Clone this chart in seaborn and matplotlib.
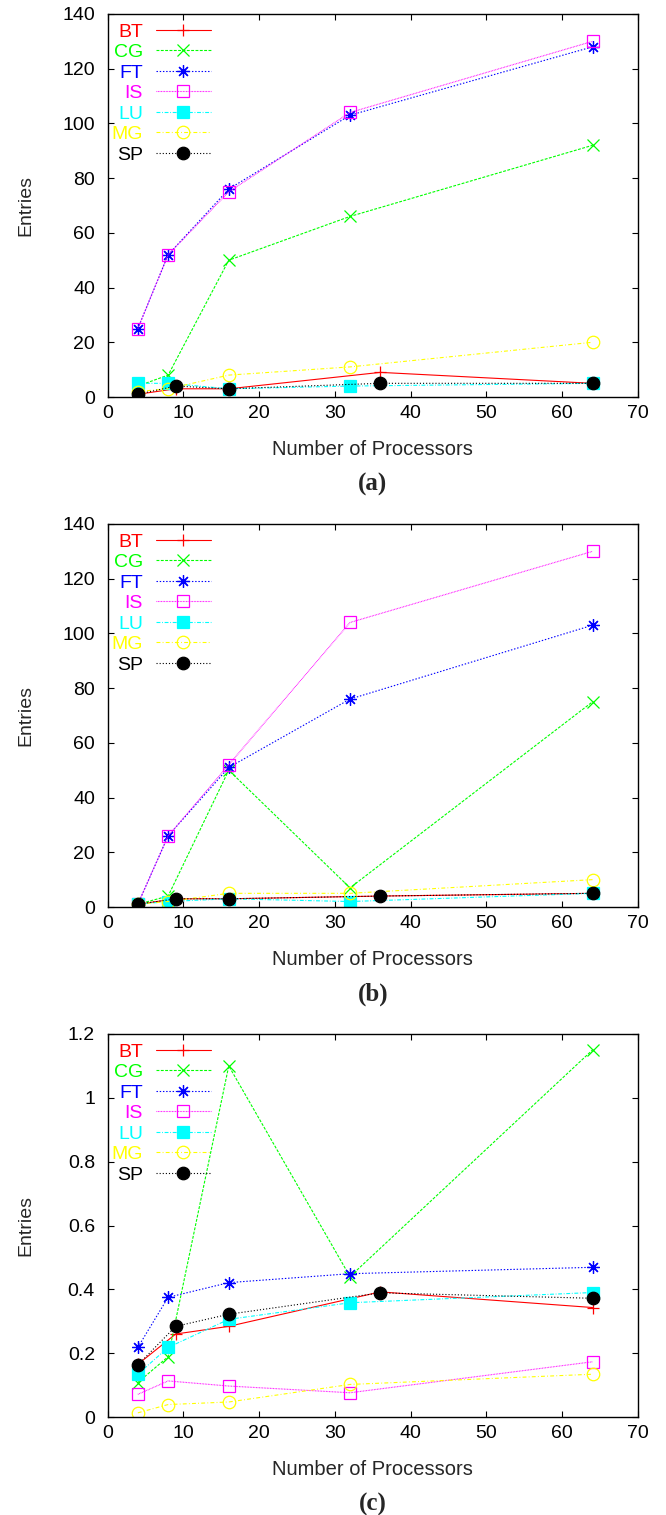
import matplotlib
matplotlib.use("Agg")
import matplotlib.pyplot as plt
import seaborn as sns

# ---------------- data ----------------
SERIES = ["BT", "CG", "FT", "IS", "LU", "MG", "SP"]
X_POW2 = [4, 8, 16, 32, 64]        # CG, FT, IS, LU, MG
X_SQUARE = [4, 9, 16, 36, 64]      # BT, SP
X_TICKS = [0, 10, 20, 30, 40, 50, 60, 70]

# panel (a)
A_BT = [1, 3, 3, 9, 5]
A_CG = [4, 8, 50, 66, 92]
A_FT = [25, 52, 76, 103, 128]
A_IS = [25, 52, 75, 104, 130]
A_LU = [5, 5, 3, 4, 5]
A_MG = [2, 3, 8, 11, 20]
A_SP = [1, 4, 3, 5, 5]

# panel (b)
B_BT = [1, 3, 3, 4, 5]
B_CG = [1, 4, 50, 7, 75]
B_FT = [1, 26, 51, 76, 103]
B_IS = [1, 26, 52, 104, 130]
B_LU = [1, 2, 3, 2, 5]
B_MG = [1, 2, 5, 5, 10]
B_SP = [1, 3, 3, 4, 5]

# panel (c)
C_BT = [0.165, 0.26, 0.284, 0.392, 0.343]
C_CG = [0.108, 0.189, 1.10, 0.44, 1.15]
C_FT = [0.218, 0.375, 0.421, 0.449, 0.469]
C_IS = [0.071, 0.113, 0.097, 0.076, 0.173]
C_LU = [0.134, 0.218, 0.306, 0.358, 0.39]
C_MG = [0.013, 0.039, 0.047, 0.102, 0.134]
C_SP = [0.163, 0.284, 0.322, 0.389, 0.372]

Y_TICKS_AB = [0, 20, 40, 60, 80, 100, 120, 140]
Y_TICKS_C = [0, 0.2, 0.4, 0.6, 0.8, 1.0, 1.2]
Y_TICKLABELS_C = ["0", "0.2", "0.4", "0.6", "0.8", "1", "1.2"]
PANEL_LABELS = ["(a)", "(b)", "(c)"]
X_LABEL = "Number of Processors"
Y_LABEL = "Entries"

# ---------------- styles ----------------
STYLE = {
    "BT": dict(color="#ff0000", marker="+", ms=9, mfc="#ff0000", ls="-"),
    "CG": dict(color="#00ff00", marker="x", ms=8, mfc="#00ff00", ls=(0, (2.6, 1.3))),
    "FT": dict(color="#0000ff", marker=(8, 2, 0), ms=9, mfc="#0000ff", ls=(0, (1.3, 1.6))),
    "IS": dict(color="#ff00ff", marker="s", ms=8.5, mfc="none", ls=(0, (0.7, 0.7))),
    "LU": dict(color="#00ffff", marker="s", ms=8.5, mfc="#00ffff", ls=(0, (3.5, 1.5, 0.8, 1.5))),
    "MG": dict(color="#ffff00", marker="o", ms=9, mfc="none", ls=(0, (3.5, 2.0, 0.8, 2.0))),
    "SP": dict(color="#000000", marker="o", ms=9, mfc="#000000", ls=(0, (1.0, 1.8))),
}

sns.set_style("white")
plt.rcParams["font.family"] = ["Liberation Sans", "DejaVu Sans"]

W, H = 666, 1515
fig = plt.figure(figsize=(W / 100, H / 100), dpi=100)

AX_LEFT, AX_RIGHT = 107.5, 638.0
AX_TOPS = [14, 524, 1034]
AX_H = 383
AX_W = AX_RIGHT - AX_LEFT


def rect(top):
    return [AX_LEFT / W, (H - top - AX_H) / H, AX_W / W, AX_H / H]


panels = [
    dict(BT=A_BT, CG=A_CG, FT=A_FT, IS=A_IS, LU=A_LU, MG=A_MG, SP=A_SP),
    dict(BT=B_BT, CG=B_CG, FT=B_FT, IS=B_IS, LU=B_LU, MG=B_MG, SP=B_SP),
    dict(BT=C_BT, CG=C_CG, FT=C_FT, IS=C_IS, LU=C_LU, MG=C_MG, SP=C_SP),
]

for i, data in enumerate(panels):
    ax = fig.add_axes(rect(AX_TOPS[i]))
    for name in SERIES:
        xs = X_SQUARE if name in ("BT", "SP") else X_POW2
        st = STYLE[name]
        sns.lineplot(x=xs, y=data[name], ax=ax, color=st["color"],
                     marker=st["marker"], markersize=st["ms"],
                     markerfacecolor=st["mfc"], markeredgecolor=st["color"],
                     markeredgewidth=0.9, linestyle=st["ls"], linewidth=0.8,
                     label=name, legend=False, errorbar=None, estimator=None,
                     sort=False)
    ax.set_xlim(0, 70)
    ax.set_xticks(X_TICKS)
    if i < 2:
        ax.set_ylim(0, 140)
        ax.set_yticks(Y_TICKS_AB)
    else:
        ax.set_ylim(0, 1.2)
        ax.set_yticks(Y_TICKS_C)
        ax.set_yticklabels(Y_TICKLABELS_C)
    for sp in ax.spines.values():
        sp.set_visible(True)
        sp.set_color("black")
        sp.set_linewidth(1.0)
    ax.tick_params(axis="both", direction="in", length=4.5, width=0.8,
                   top=True, right=True, bottom=True, left=True,
                   labelsize=14, colors="black")
    ax.tick_params(axis="x", pad=6)
    ax.tick_params(axis="y", pad=9)
    ax.set_xlabel(X_LABEL, fontsize=14.5)
    ax.set_ylabel(Y_LABEL, fontsize=14)
    ax.xaxis.set_label_coords(0.5, -43.0 / AX_H)
    ax.yaxis.set_label_coords(-73.0 / AX_W, 0.5)
    ax.grid(False)

    handles, labels = ax.get_legend_handles_labels()
    leg = ax.legend(handles, labels, loc="upper right",
                    bbox_to_anchor=(103.0 / AX_W, 1 - 9.0 / AX_H),
                    frameon=False, markerfirst=False, handlelength=2.78,
                    handletextpad=0.7, labelspacing=0.15, borderpad=0,
                    borderaxespad=0, fontsize=14, numpoints=1)
    for txt, name in zip(leg.get_texts(), labels):
        txt.set_color(STYLE[name]["color"])

    bottom = AX_TOPS[i] + AX_H
    fig.text((AX_LEFT + AX_RIGHT) / 2 / W, (H - (bottom + 87)) / H, PANEL_LABELS[i],
             ha="center", va="center", fontsize=18, fontweight="bold",
             family=["Liberation Serif", "DejaVu Serif"])

fig.savefig("out.png", dpi=100)
